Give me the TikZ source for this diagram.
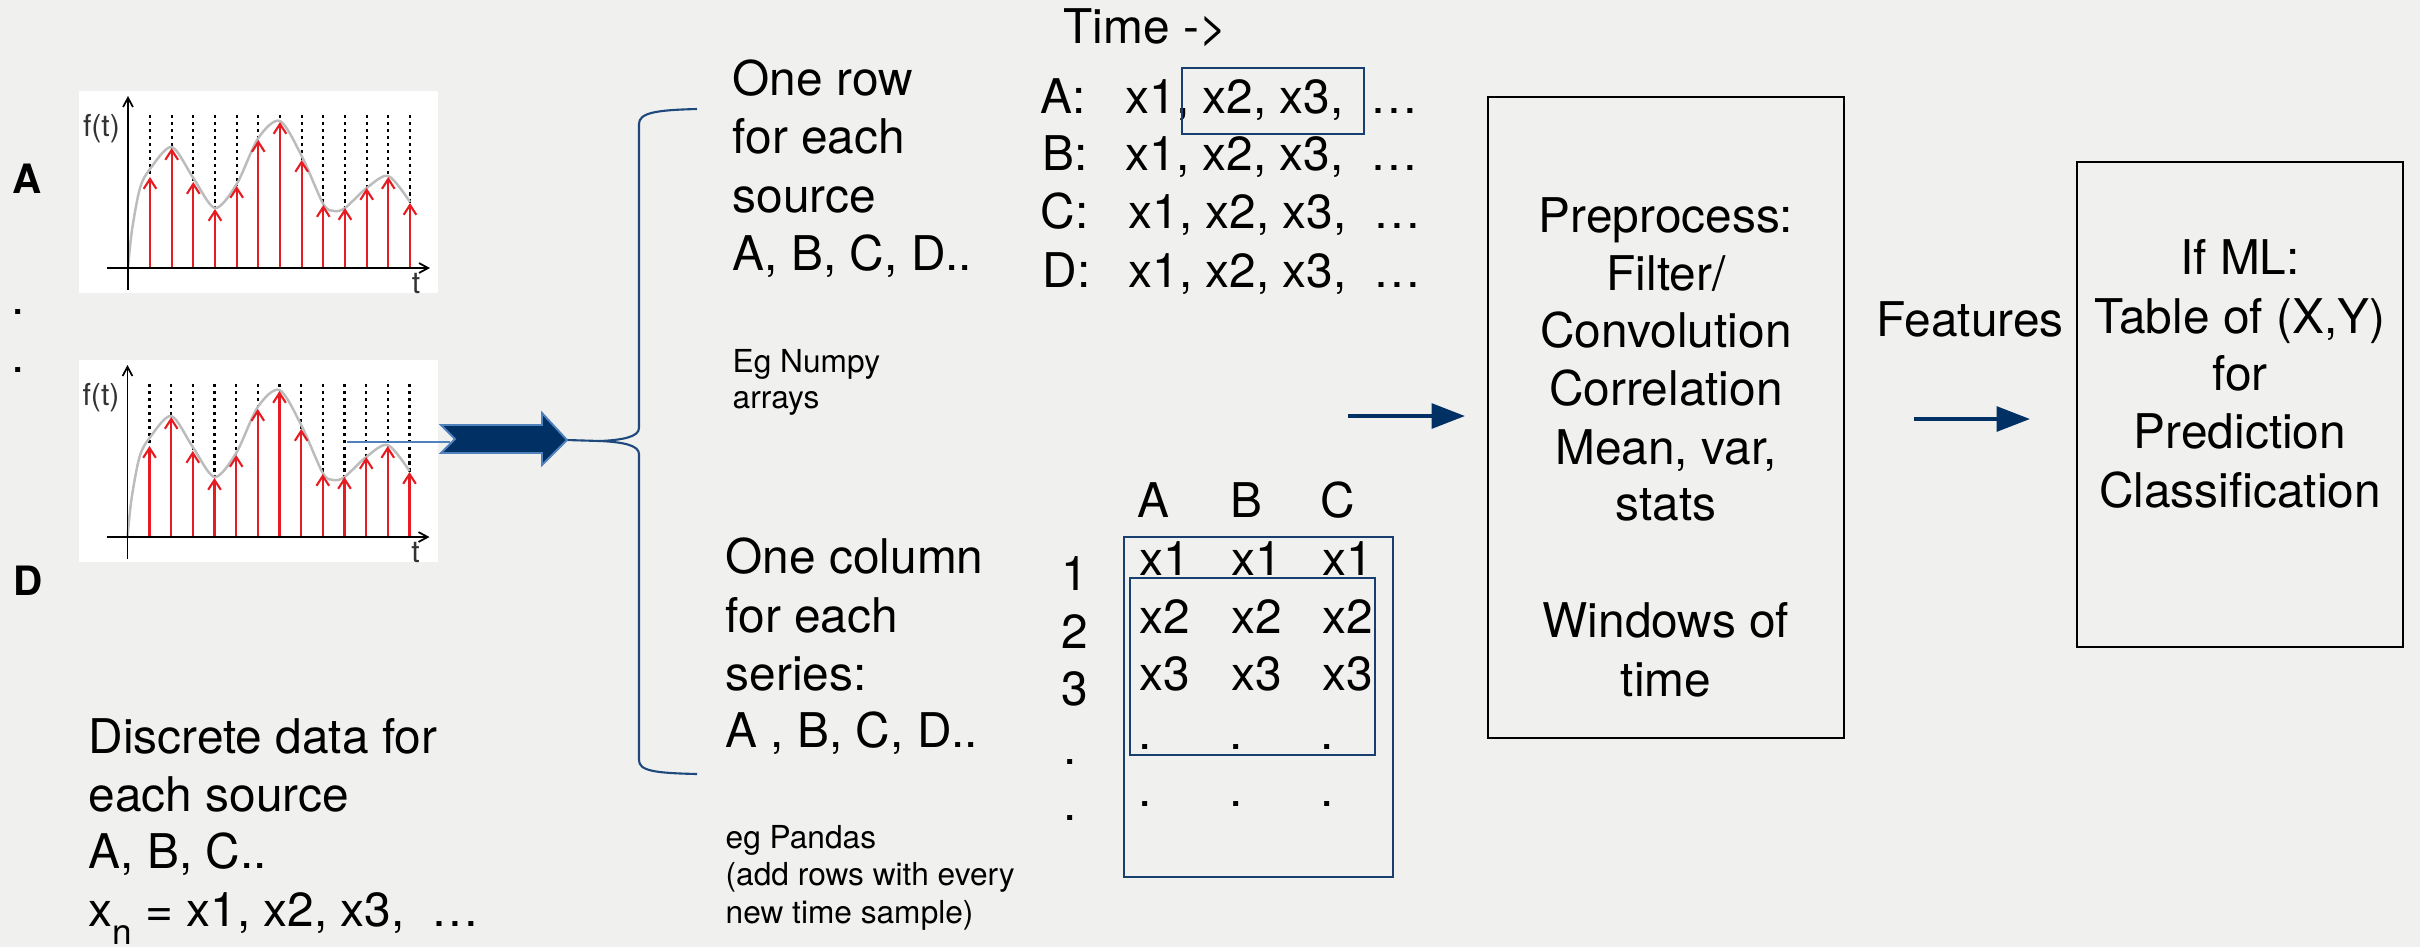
\documentclass[tikz,border=0pt]{standalone}
\usepackage{fontspec}
\setmainfont{TeX Gyre Heros}
\usetikzlibrary{arrows.meta}
\definecolor{bgc}{RGB}{240,240,238}
\definecolor{navy}{RGB}{0,48,100}
\definecolor{bracec}{RGB}{31,73,125}
\definecolor{boxblue}{RGB}{25,62,112}
\definecolor{lightblue}{RGB}{79,129,189}
\definecolor{sigred}{RGB}{230,28,34}
\definecolor{curvegray}{RGB}{188,188,188}
\tikzset{
  big/.style={font=\fontsize{13.6}{16.6}\selectfont, inner sep=0pt, anchor=base west},
  bigc/.style={font=\fontsize{13.6}{16.6}\selectfont, inner sep=0pt, anchor=base},
  small/.style={font=\fontsize{9}{10.4}\selectfont, inner sep=0pt, anchor=base west},
  srclabel/.style={font=\fontsize{11.5}{12}\selectfont\bfseries, inner sep=0pt, anchor=base},
  ftlabel/.style={font=\fontsize{8.6}{9}\selectfont, text=black!80, inner sep=0pt},
  stem/.style={sigred, line width=0.6pt, -{Straight Barb[length=2.8pt,width=3.6pt]}},
  dotline/.style={black, line width=0.6pt, dash pattern=on 0.9pt off 1.1pt},
  curveline/.style={curvegray, line width=0.7pt},
  axisline/.style={black, line width=0.5pt, -{Straight Barb[length=2.6pt,width=2.8pt]}},
  procbox/.style={draw=black, line width=0.7pt, inner sep=0pt},
  bluebox/.style={draw=boxblue, line width=0.55pt},
  flowarrow/.style={navy, line width=1.15pt, -{Triangle[length=9.5pt,width=7pt]}},
}
\newcommand\sigplot[3]{%
\begin{scope}[shift={(#1,#2)}]
  \fill[white] (-49,-177) rectangle (310,25);
  \foreach \sx/\sh in {22/91, 43.7/120, 65.3/86, 87/59, 108.7/82, 130.3/128, 152/146, 173.7/108, 195.3/63, 217/60, 238.7/80, 260.3/91, 282/65}
    {\draw[dotline] (\sx,-153) -- (\sx,-\sh);}
  \draw[curveline] plot[smooth] coordinates {(0,0) (4,-38) (12,-80) (22,-99) (43.7,-121) (65.3,-90) (87,-60) (108.7,-84) (130.3,-130) (152,-147) (173.7,-112) (195.3,-64) (206,-57) (217,-60) (238.7,-80) (260.3,-92) (282,-66)};
  \foreach \sx/\sh in {22/91, 43.7/120, 65.3/86, 87/59, 108.7/82, 130.3/128, 152/146, 173.7/108, 195.3/63, 217/60, 238.7/80, 260.3/91, 282/65}
    {\draw[stem] (\sx,0) -- (\sx,-\sh);}
  \draw[axisline] (0,22) -- (0,-172);
  \draw[axisline] (-21,0) -- (302,0);
  \node[ftlabel] (#3f) at (-26.5,-139) {f(t)};
  \node[ftlabel] (#3t) at (288,15) {t};
\end{scope}}
\begin{document}
\begin{tikzpicture}[x=0.01cm,y=-0.01cm]
\useasboundingbox (0,0) rectangle (2420,947);
\fill[bgc] (0,0) rectangle (2420,947);

% source plots
\sigplot{128}{268}{pa}
\sigplot{127.5}{537}{pd}

\node[srclabel] (lA) at (27.5,193) {A};
\node[bigc] (ld1) at (18,314) {.};
\node[bigc] (ld2) at (18,372) {.};
\node[srclabel] (lD) at (28,595) {D};

% discrete data text
\node[big] (dd1) at (88,753) {Discrete data for};
\node[big] (dd2) at (88,811) {each source};
\node[big] (dd3) at (88,868) {A, B, C..};
\node[big] (dd4) at (88,926) {x\raisebox{-0.38em}{\fontsize{10}{10}\selectfont n} = x1, x2, x3,~~…};

% brace and big arrow
\coordinate (bt) at (600,441);
\coordinate (ls) at (347,442);
\coordinate (at) at (567,440);
\draw[lightblue, line width=0.45pt] (ls) -- (450,442);
\draw[bracec, line width=0.6pt] (at) -- (bt);
\draw[bracec, line width=0.6pt] (697,109) .. controls (655,110) and (639,113) .. (639,124) -- (639,428) .. controls (639,437) and (622,440) .. (bt) .. controls (622,442) and (639,445) .. (639,454) -- (639,760) .. controls (639,771) and (655,773) .. (697,774);
\draw[fill=navy, draw=lightblue, line width=0.55pt] (441,425) -- (542,425) -- (542,413) -- (at) -- (542,465) -- (542,453) -- (441,453) -- (455,439) -- cycle;

% row layout text
\node[big] (r1) at (732,95) {One row};
\node[big] (r2) at (732,153) {for each};
\node[big] (r3) at (732,212) {source};
\node[big] (r4) at (732,270) {A, B, C, D..};
\node[small] (np1) at (732,372) {Eg Numpy};
\node[small] (np2) at (732,408) {arrays};

\node[big] (c1) at (725,573) {One column};
\node[big] (c2) at (725,632) {for each};
\node[big] (c3) at (725,690) {series:};
\node[big] (c4) at (725,747) {A , B, C, D..};
\node[small] (pd1) at (725,848) {eg Pandas};
\node[small] (pd2) at (725,885) {(add rows with every};
\node[small] (pd3) at (725,923) {new time sample)};

% time rows
\node[big] (time) at (1063,43) {Time ->};
\node[big] (ra) at (1040,113) {A:};
\node[big] (rb) at (1042,170) {B:};
\node[big] (rc) at (1040,228) {C:};
\node[big] (rd) at (1042,287) {D:};
\node[big] (xa) at (1125,113) {x1, x2, x3,~~…};
\node[big] (xb) at (1125,170) {x1, x2, x3,~~…};
\node[big] (xc) at (1128,228) {x1, x2, x3,~~…};
\node[big] (xd) at (1128,287) {x1, x2, x3,~~…};
\draw[bluebox] (1182,68) rectangle (1364,134);

% column table
\node[bigc] (hA) at (1153,517) {A};
\node[bigc] (hB) at (1246,517) {B};
\node[bigc] (hC) at (1338,517) {C};
\foreach \cx [count=\ci] in {1139,1231,1322} {
  \node[big] (t1\ci) at (\cx,575) {x1};
  \node[big] (t2\ci) at (\cx,633) {x2};
  \node[big] (t3\ci) at (\cx,690) {x3};
}
\foreach \cx [count=\ci] in {1145,1236,1327} {
  \node[bigc] (t4\ci) at (\cx,749) {.};
  \node[bigc] (t5\ci) at (\cx,806) {.};
}
\node[bigc] (n1) at (1075,590) {1};
\node[bigc] (n2) at (1075,648) {2};
\node[bigc] (n3) at (1075,705) {3};
\node[bigc] (n4) at (1070,764) {.};
\node[bigc] (n5) at (1070,820) {.};
\draw[bluebox] (1124,537) rectangle (1393,877);
\draw[bluebox] (1130,578) rectangle (1375,755);

% preprocess box
\node[procbox, minimum width=3.56cm, minimum height=6.41cm] (pp) at (1666,417.5) {};
\node[bigc] (pp1) at (1666,232) {Preprocess:};
\node[bigc] (pp2) at (1666,290) {Filter/};
\node[bigc] (pp3) at (1666,347) {Convolution};
\node[bigc] (pp4) at (1666,405) {Correlation};
\node[bigc] (pp5) at (1666,464) {Mean, var,};
\node[bigc] (pp6) at (1666,520) {stats};
\node[bigc] (pp7) at (1666,637) {Windows of};
\node[bigc] (pp8) at (1666,696) {time};

% ML box
\node[procbox, minimum width=3.26cm, minimum height=4.85cm] (ml) at (2240,404.5) {};
\node[bigc] (ml1) at (2240,274) {If ML:};
\node[bigc] (ml2) at (2240,333) {Table of (X,Y)};
\node[bigc] (ml3) at (2240,390) {for};
\node[bigc] (ml4) at (2240,448) {Prediction};
\node[bigc] (ml5) at (2240,507) {Classification};

\node[big] (feat) at (1876,336) {Features};

% flow arrows
\coordinate (a1s) at (1348,416);
\coordinate (a1e) at (1465,416);
\draw[flowarrow] (a1s) -- (a1e);
\coordinate (a2s) at (1914,419);
\coordinate (a2e) at (2030,419);
\draw[flowarrow] (a2s) -- (a2e);
\end{tikzpicture}
\end{document}
